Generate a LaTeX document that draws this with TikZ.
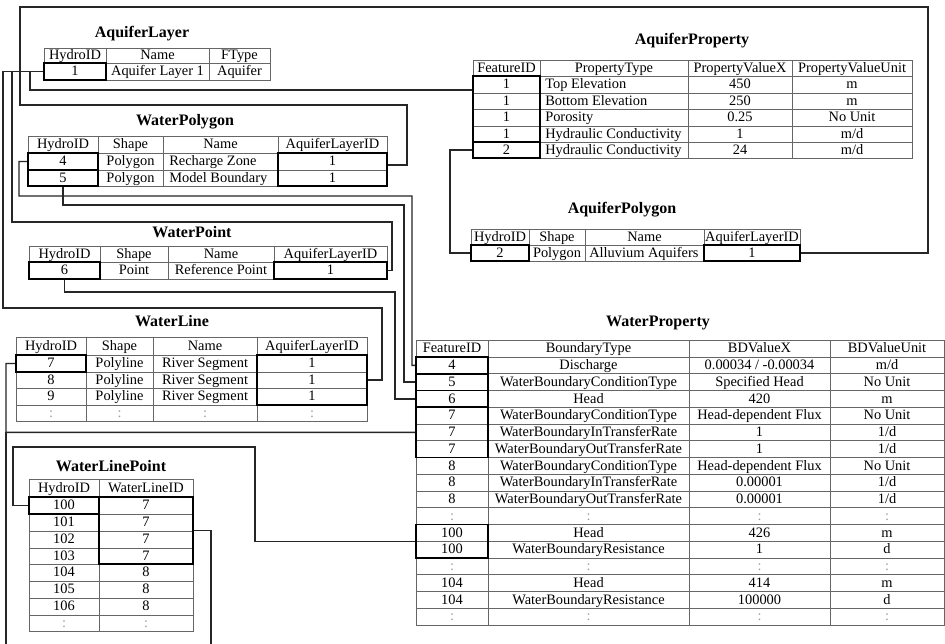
\documentclass[tikz,border=0pt]{standalone}
\usepackage{fontspec}
\setmainfont{Liberation Serif}
\usetikzlibrary{fit}
\newcounter{cn}
\tikzset{
  gridline/.style={line width=0.6pt, draw=black!60},
  bbox/.style={draw=black, line width=1.4pt, inner sep=0pt},
  conn/.style={draw=black!85, line width=1pt},
  cell/.style={font=\fontsize{10.8}{12}\selectfont, inner sep=0pt, text height=7.4pt, text depth=1pt},
  dots/.style={cell, text=black!40},
  ttl/.style={font=\fontsize{12}{14}\selectfont\bfseries, inner sep=0pt, text height=8.5pt, text depth=2pt},
}
\newcommand\tcC[3]{\stepcounter{cn}\node[cell] (n\arabic{cn}) at (#1,#2) {#3};}
\newcommand\tcL[3]{\stepcounter{cn}\node[cell,anchor=west] (n\arabic{cn}) at (#1,#2) {#3};}
\newcommand\tcD[2]{\stepcounter{cn}\node[dots] (n\arabic{cn}) at (#1,#2) {:};}
\newcommand\tgrid[6]{%
  \draw[gridline] (#1,#3) rectangle (#2,#4);
  \foreach \xx in {#5} {\draw[gridline] (\xx,#3) -- (\xx,#4);}
  \foreach \yy in {#6} {\draw[gridline] (#1,\yy) -- (#2,\yy);}
}
% row macros
\newcommand\aprow[5]{\tcC{506.5}{#1}{#2}\tcL{545}{#1}{#3}\tcC{740}{#1}{#4}\tcC{852}{#1}{#5}}
\newcommand\wrrow[5]{\tcC{452}{#1}{#2}\tcC{588.5}{#1}{#3}\tcC{759.5}{#1}{#4}\tcC{887}{#1}{#5}}
\newcommand\wrdots[1]{\tcD{452}{#1}\tcD{588.5}{#1}\tcD{759.5}{#1}\tcD{887}{#1}}
\newcommand\wlrow[5]{\tcC{51}{#1}{#2}\tcC{119.5}{#1}{#3}\tcC{205}{#1}{#4}\tcC{312}{#1}{#5}}
\newcommand\wlprow[3]{\tcC{64}{#1}{#2}\tcC{146}{#1}{#3}}
\begin{document}
\begin{tikzpicture}[x=0.75pt,y=-0.75pt]
\useasboundingbox (0,0) rectangle (945,643);
\clip (0,0) rectangle (945,643);
\fill[white] (0,0) rectangle (945,643);

% ---------------- AquiferLayer
\node[ttl] (tAL) at (142,33) {AquiferLayer};
\tgrid{44}{270}{48}{80}{106,209}{63}
\tcC{75}{55.5}{HydroID}\tcC{157.5}{55.5}{Name}\tcC{239.5}{55.5}{FType}
\tcC{75}{71.5}{1}\tcC{157.5}{71.5}{Aquifer Layer 1}\tcC{239.5}{71.5}{Aquifer}
\node[bbox, fit={(44,63) (106,80)}] (alH) {};

% ---------------- AquiferProperty
\node[ttl] (tAP) at (692,40) {AquiferProperty};
\tgrid{473}{912}{60}{158}{540,688,792}{76,93,109,126,142}
\tcC{506.5}{68}{FeatureID}\tcC{614}{68}{PropertyType}\tcC{740}{68}{PropertyValueX}\tcC{852}{68}{PropertyValueUnit}
\aprow{84.5}{1}{Top Elevation}{450}{m}
\aprow{101}{1}{Bottom Elevation}{250}{m}
\aprow{117.5}{1}{Porosity}{0.25}{No Unit}
\aprow{134}{1}{Hydraulic Conductivity}{1}{m/d}
\aprow{150}{2}{Hydraulic Conductivity}{24}{m/d}
\node[bbox, fit={(473,76) (540,142)}] (apF1) {};
\node[bbox, fit={(473,142) (540,158)}] (apF2) {};

% ---------------- WaterPolygon
\node[ttl] (tWPg) at (185,121) {WaterPolygon};
\tgrid{28}{387}{136}{186}{98,163,278}{153,170}
\tcC{63}{144.5}{HydroID}\tcC{130.5}{144.5}{Shape}\tcC{220.5}{144.5}{Name}\tcC{332.5}{144.5}{AquiferLayerID}
\tcC{63}{161.5}{4}\tcC{130.5}{161.5}{Polygon}\tcL{169}{161.5}{Recharge Zone}\tcC{332.5}{161.5}{1}
\tcC{63}{178}{5}\tcC{130.5}{178}{Polygon}\tcL{169}{178}{Model Boundary}\tcC{332.5}{178}{1}
\node[bbox, fit={(28,153) (98,170)}] (wpH4) {};
\node[bbox, fit={(28,170) (98,186)}] (wpH5) {};
\node[bbox, fit={(278,153) (387,186)}] (wpA) {};

% ---------------- WaterPoint
\node[ttl] (tWPt) at (192,233) {WaterPoint};
\tgrid{29}{387}{246}{279}{100,168,274}{262}
\tcC{64.5}{254}{HydroID}\tcC{134}{254}{Shape}\tcC{221}{254}{Name}\tcC{330.5}{254}{AquiferLayerID}
\tcC{64.5}{270.5}{6}\tcC{134}{270.5}{Point}\tcC{221}{270.5}{Reference Point}\tcC{330.5}{270.5}{1}
\node[bbox, fit={(29,262) (100,279)}] (wptH) {};
\node[bbox, fit={(274,262) (387,279)}] (wptA) {};

% ---------------- WaterLine
\node[ttl] (tWL) at (172,322) {WaterLine};
\tgrid{16}{367}{337}{421}{86,153,257}{355,372,388,405}
\wlrow{346}{HydroID}{Shape}{Name}{AquiferLayerID}
\wlrow{363.5}{7}{Polyline}{River Segment}{1}
\wlrow{380}{8}{Polyline}{River Segment}{1}
\wlrow{396.5}{9}{Polyline}{River Segment}{1}
\tcD{51}{413}\tcD{119.5}{413}\tcD{205}{413}\tcD{312}{413}
\node[bbox, fit={(16,355) (86,372)}] (wlH) {};
\node[bbox, fit={(257,355) (367,405)}] (wlA) {};

% ---------------- WaterLinePoint
\node[ttl] (tWLP) at (111,467) {WaterLinePoint};
\tgrid{29}{193}{479}{631}{99}{497,514,531,548,564,581,598,615}
\wlprow{488}{HydroID}{WaterLineID}
\wlprow{505.5}{100}{7}
\wlprow{522.5}{101}{7}
\wlprow{539.5}{102}{7}
\wlprow{556}{103}{7}
\wlprow{572.5}{104}{8}
\wlprow{589.5}{105}{8}
\wlprow{606.5}{106}{8}
\tcD{64}{623}\tcD{146}{623}
\node[bbox, fit={(29,497) (99,514)}] (wlpH) {};
\node[bbox, fit={(99,497) (193,564)}] (wlpW) {};

% ---------------- AquiferPolygon
\node[ttl] (tAPg) at (622,209) {AquiferPolygon};
\tgrid{471}{800}{229}{261}{529,585,704}{245}
\tcC{500}{237}{HydroID}\tcC{557}{237}{Shape}\tcC{644.5}{237}{Name}\tcC{752}{237}{AquiferLayerID}
\tcC{500}{253}{2}\tcC{557}{253}{Polygon}\tcL{589}{253}{Alluvium Aquifers}\tcC{752}{253}{1}
\node[bbox, fit={(471,245) (529,261)}] (apolH) {};
\node[bbox, fit={(704,245) (800,261)}] (apA) {};

% ---------------- WaterProperty
\node[ttl] (tWPr) at (658,322) {WaterProperty};
\tgrid{416}{944}{340}{625}{488,689,830}{357,373.75,390.5,407.25,424,440.75,457.5,474.25,491,507.75,524.5,541.25,558,574.75,591.5,608.25}
\wrrow{348.5}{FeatureID}{BoundaryType}{BDValueX}{BDValueUnit}
\wrrow{365.4}{4}{Discharge}{0.00034 / -0.00034}{m/d}
\wrrow{382.1}{5}{WaterBoundaryConditionType}{Specified Head}{No Unit}
\wrrow{398.9}{6}{Head}{420}{m}
\wrrow{415.6}{7}{WaterBoundaryConditionType}{Head-dependent Flux}{No Unit}
\wrrow{432.4}{7}{WaterBoundaryInTransferRate}{1}{1/d}
\wrrow{449.1}{7}{WaterBoundaryOutTransferRate}{1}{1/d}
\wrrow{465.9}{8}{WaterBoundaryConditionType}{Head-dependent Flux}{No Unit}
\wrrow{482.6}{8}{WaterBoundaryInTransferRate}{0.00001}{1/d}
\wrrow{499.4}{8}{WaterBoundaryOutTransferRate}{0.00001}{1/d}
\wrdots{516.1}
\wrrow{532.9}{100}{Head}{426}{m}
\wrrow{549.6}{100}{WaterBoundaryResistance}{1}{d}
\wrdots{566.4}
\wrrow{583.1}{104}{Head}{414}{m}
\wrrow{599.9}{104}{WaterBoundaryResistance}{100000}{d}
\wrdots{616.6}
\node[bbox, fit={(416,357) (488,373.75)}] (wr4) {};
\node[bbox, fit={(416,373.75) (488,390.5)}] (wr5) {};
\node[bbox, fit={(416,390.5) (488,407.25)}] (wr6) {};
\node[bbox, fit={(416,407.25) (488,457.5)}] (wr7) {};
\node[bbox, fit={(416,524.5) (488,558)}] (wr100) {};

% ---------------- connectors
\draw[conn] (alH.west) -| (30,90) -- (apF1.west |- 30,90);
\draw[conn] (alH.west) -| (20,7) -| (928,253) -- (apA.east);
\draw[conn] (alH.west) -| (20,105) -| (407,165) -- (wpA.east |- 407,165);
\draw[conn] (alH.west) -| (12,222) -| (392,270.5) -- (wptA.east);
\draw[conn] (alH.west) -| (3,308) -| (382,380) -- (wlA.east);
\draw[conn] (wpH4.west) -| (19,196) -| (412,365.4) -- (wr4.west);
\draw[conn] (wpH5.south) |- (404,205) |- (wr5.west);
\draw[conn] (wptH.south) |- (395,292) |- (wr6.west);
\draw[conn] (wlH.west) -| (6,432.4) -- (wr7.west);
\draw[conn] (wlpW.east) -| (211,660) -| (6,432.4);
\draw[conn] (wlpH.west) -| (13,447) -| (255,541.25) -- (wr100.west);
\draw[conn] (apolH.west) -| (450,150) -- (apF2.west);
\end{tikzpicture}
\end{document}
